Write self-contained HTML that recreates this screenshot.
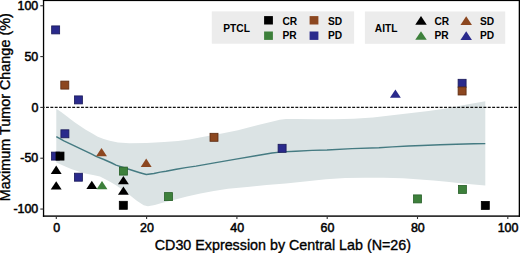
<!DOCTYPE html>
<html><head><meta charset="utf-8"><style>
html,body{margin:0;padding:0;background:#fff;}
body{width:520px;height:253px;overflow:hidden;}
svg{display:block;}
text{font-family:"Liberation Sans",sans-serif;fill:#000;stroke:#000;stroke-width:0.35px;}
.tk{font-size:12.45px;stroke-width:0.5px;}
.ttl{font-size:14.3px;}
.lg{font-size:10.2px;font-weight:bold;stroke-width:0;}
</style></head><body>
<svg width="520" height="253" viewBox="0 0 520 253">
<polygon points="56.3,108.8 61.1,111.9 65.8,115.6 70.6,119.2 75.3,122.7 80.1,126 85.3,129.4 91.9,133.2 97.8,136.8 103.7,139 109.7,140.7 118,142.4 129.5,143.2 146.8,142.9 164.1,142.1 178,140.9 189.5,139.4 201,137.3 221.8,133.6 238,130.2 247.5,127.8 259.1,124.8 270.6,121.9 279.8,119.8 286,118.9 296,119 315.2,119.3 334.5,119.3 353.7,118.8 372.9,117.5 390,115.4 409.2,113.3 428.5,111.1 447.7,108.2 466.9,104.6 485.3,101.2 485.3,185.6 473.8,184.5 460.4,183.2 446.9,181.8 433.5,180.5 420,179.4 402.9,178.3 383.7,177.7 364.5,177.7 345.2,178.1 326,179.2 304.9,181.6 285.7,183.5 266.5,185 247.2,186.9 228,188.8 213.8,191 200.4,193.5 186.9,196.4 173.5,199.9 161.7,202.9 154.8,204.9 147.9,206.3 143.7,205.3 136.8,200.8 129.9,195.2 120,188 116,185.3 108.7,181 100,176.6 93,175.1 84,173.3 71.8,169.2 65.9,166.8 56.3,162.5" fill="#dbe3e4"/>
<line x1="44" y1="107.4" x2="518.5" y2="107.4" stroke="#111" stroke-width="1.1" stroke-dasharray="2.9 1.4744" stroke-dashoffset="2.37"/>
<polyline points="56.3,136.7 63.9,140.9 71.8,144.6 76,146.6 83.9,150.3 91.8,154.2 96,156.3 103.9,159.5 111.8,163 116,165.1 132,170.3 139.9,172.7 146.3,174.5 153.9,173.5 160.2,172.1 166,171.2 176.3,169.2 185.7,167.6 196,166.1 215.8,162.6 236,159.1 255.8,155.8 272,153 282.2,151.9 295.7,151.3 312,150.4 327,150 352,148.6 378.9,147.7 392.4,146.9 408.5,146 422,145.5 440.2,144.8 456.3,144.2 473.8,143.8 485.3,143.6" fill="none" stroke="#457b82" stroke-width="1.45" stroke-linejoin="round"/>
<rect x="51.65" y="25.90" width="8.00" height="8.00" fill="#2a2a8c" stroke="#1a1a58" stroke-width="0.8"/>
<rect x="60.80" y="81.10" width="8.00" height="8.00" fill="#8c4720" stroke="#5a2a10" stroke-width="0.8"/>
<rect x="74.40" y="95.90" width="8.00" height="8.00" fill="#2a2a8c" stroke="#1a1a58" stroke-width="0.8"/>
<rect x="60.90" y="129.80" width="8.00" height="8.00" fill="#2a2a8c" stroke="#1a1a58" stroke-width="0.8"/>
<rect x="51.50" y="152.10" width="8.00" height="8.00" fill="#2a2a8c" stroke="#1a1a58" stroke-width="0.8"/>
<rect x="56.00" y="152.10" width="8.00" height="8.00" fill="#000000" stroke="#000000" stroke-width="0.8"/>
<rect x="74.40" y="173.20" width="8.00" height="8.00" fill="#2a2a8c" stroke="#1a1a58" stroke-width="0.8"/>
<rect x="119.40" y="167.10" width="8.00" height="8.00" fill="#3d803b" stroke="#275f28" stroke-width="0.8"/>
<rect x="119.30" y="201.30" width="8.00" height="8.00" fill="#000000" stroke="#000000" stroke-width="0.8"/>
<rect x="164.50" y="192.60" width="8.00" height="8.00" fill="#3d803b" stroke="#275f28" stroke-width="0.8"/>
<rect x="210.00" y="133.30" width="8.00" height="8.00" fill="#8c4720" stroke="#5a2a10" stroke-width="0.8"/>
<rect x="278.10" y="144.30" width="8.00" height="8.00" fill="#2a2a8c" stroke="#1a1a58" stroke-width="0.8"/>
<rect x="413.50" y="194.90" width="8.00" height="8.00" fill="#3d803b" stroke="#275f28" stroke-width="0.8"/>
<rect x="458.10" y="79.30" width="8.00" height="8.00" fill="#2a2a8c" stroke="#1a1a58" stroke-width="0.8"/>
<rect x="458.10" y="87.00" width="8.00" height="8.00" fill="#8c4720" stroke="#5a2a10" stroke-width="0.8"/>
<rect x="458.40" y="185.40" width="8.00" height="8.00" fill="#3d803b" stroke="#275f28" stroke-width="0.8"/>
<rect x="481.30" y="201.40" width="8.00" height="8.00" fill="#000000" stroke="#000000" stroke-width="0.8"/>
<polygon points="56.20,165.60 50.75,173.90 61.65,173.90" fill="#000000"/>
<polygon points="56.20,181.20 50.75,189.50 61.65,189.50" fill="#000000"/>
<polygon points="91.80,180.80 86.35,189.10 97.25,189.10" fill="#000000"/>
<polygon points="102.00,180.90 96.55,189.20 107.45,189.20" fill="#3d803b"/>
<polygon points="101.50,148.00 96.05,156.30 106.95,156.30" fill="#8c4720"/>
<polygon points="123.40,176.00 117.95,184.30 128.85,184.30" fill="#000000"/>
<polygon points="123.40,186.40 117.95,194.70 128.85,194.70" fill="#000000"/>
<polygon points="146.20,158.60 140.75,166.90 151.65,166.90" fill="#8c4720"/>
<polygon points="395.40,89.40 389.95,97.70 400.85,97.70" fill="#2a2a8c"/>
<rect x="42.9" y="0" width="1.3" height="216.8" fill="#000"/>
<rect x="42.9" y="215.4" width="477.1" height="1.4" fill="#000"/>
<rect x="42.9" y="0" width="477.1" height="1.1" fill="#000"/>
<rect x="518.7" y="0" width="1.3" height="216.8" fill="#000"/>
<line x1="40.3" y1="5.75" x2="43.5" y2="5.75" stroke="#333" stroke-width="1.1"/>
<text x="38.3" y="9.95" text-anchor="end" class="tk">100</text>
<line x1="40.3" y1="56.58" x2="43.5" y2="56.58" stroke="#333" stroke-width="1.1"/>
<text x="38.3" y="60.78" text-anchor="end" class="tk">50</text>
<line x1="40.3" y1="107.40" x2="43.5" y2="107.40" stroke="#333" stroke-width="1.1"/>
<text x="38.3" y="111.60" text-anchor="end" class="tk">0</text>
<line x1="40.3" y1="158.22" x2="43.5" y2="158.22" stroke="#333" stroke-width="1.1"/>
<text x="38.3" y="162.42" text-anchor="end" class="tk">-50</text>
<line x1="40.3" y1="209.05" x2="43.5" y2="209.05" stroke="#333" stroke-width="1.1"/>
<text x="38.3" y="213.25" text-anchor="end" class="tk">-100</text>
<line x1="56.30" y1="216" x2="56.30" y2="219" stroke="#333" stroke-width="1.1"/>
<text x="56.60" y="231.8" text-anchor="middle" class="tk">0</text>
<line x1="146.60" y1="216" x2="146.60" y2="219" stroke="#333" stroke-width="1.1"/>
<text x="146.90" y="231.8" text-anchor="middle" class="tk">20</text>
<line x1="236.90" y1="216" x2="236.90" y2="219" stroke="#333" stroke-width="1.1"/>
<text x="237.20" y="231.8" text-anchor="middle" class="tk">40</text>
<line x1="327.20" y1="216" x2="327.20" y2="219" stroke="#333" stroke-width="1.1"/>
<text x="327.50" y="231.8" text-anchor="middle" class="tk">60</text>
<line x1="417.50" y1="216" x2="417.50" y2="219" stroke="#333" stroke-width="1.1"/>
<text x="417.80" y="231.8" text-anchor="middle" class="tk">80</text>
<line x1="507.80" y1="216" x2="507.80" y2="219" stroke="#333" stroke-width="1.1"/>
<text x="508.10" y="231.8" text-anchor="middle" class="tk">100</text>
<text x="282.9" y="250" text-anchor="middle" class="ttl">CD30 Expression by Central Lab (N=26)</text>
<text transform="translate(10.3,107.2) rotate(-90)" text-anchor="middle" class="ttl" style="font-size:14.4px">Maximum Tumor Change (%)</text>
<rect x="211.8" y="11.4" width="142.3" height="32.3" fill="#ececec"/>
<rect x="364.9" y="11.5" width="140.3" height="32.3" fill="#ececec"/>
<text x="223.3" y="32.3" class="lg">PTCL</text>
<text x="374.8" y="32.2" class="lg">AITL</text>
<rect x="264.10" y="16.10" width="8.8" height="8.4" fill="#000000"/>
<rect x="264.10" y="31.50" width="8.8" height="8.4" fill="#3d803b"/>
<rect x="309.60" y="16.10" width="8.8" height="8.4" fill="#8c4720"/>
<rect x="309.60" y="31.50" width="8.8" height="8.4" fill="#2a2a8c"/>
<text x="282.4" y="25.1" class="lg">CR</text>
<text x="282.5" y="39.4" class="lg">PR</text>
<text x="327.9" y="25.1" class="lg">SD</text>
<text x="327.9" y="39.4" class="lg">PD</text>
<polygon points="421.00,16.10 415.25,24.70 426.75,24.70" fill="#000000"/>
<polygon points="421.00,31.20 415.25,39.80 426.75,39.80" fill="#3d803b"/>
<polygon points="466.20,16.30 460.45,24.90 471.95,24.90" fill="#8c4720"/>
<polygon points="466.20,31.30 460.45,39.90 471.95,39.90" fill="#2a2a8c"/>
<text x="434.4" y="25.1" class="lg">CR</text>
<text x="434.5" y="39.4" class="lg">PR</text>
<text x="479.9" y="25.1" class="lg">SD</text>
<text x="479.9" y="39.4" class="lg">PD</text>
</svg>
</body></html>
